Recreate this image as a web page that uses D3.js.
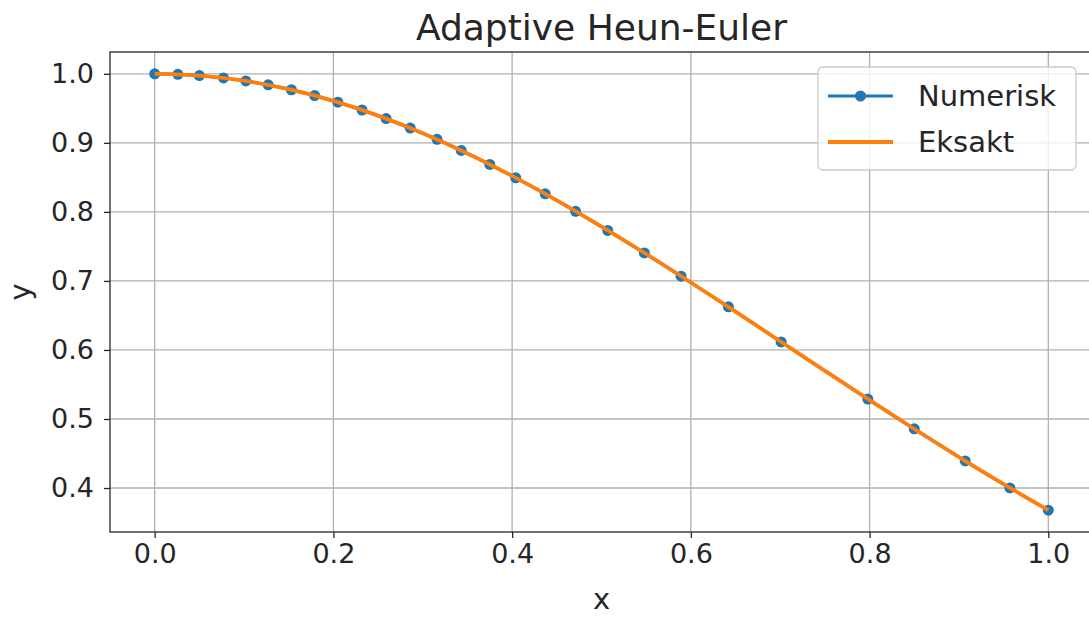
<!DOCTYPE html>
<html>
<head>
<meta charset="utf-8">
<script src="https://cdn.jsdelivr.net/npm/d3@7"></script>
<style>
  body { margin: 0; background: #fff; }
  svg text { font-family: "DejaVu Sans", sans-serif; fill: #262626; }
</style>
</head>
<body>
<div id="chart"></div>
<script>
// numeric solution (adaptive steps)
const numX = [0.0, 0.026, 0.050, 0.077, 0.102, 0.127, 0.153, 0.179, 0.205, 0.232,
  0.259, 0.286, 0.316, 0.343, 0.375, 0.404, 0.437, 0.471, 0.507, 0.548,
  0.589, 0.642, 0.701, 0.798, 0.850, 0.907, 0.957, 1.0];
const numY = [1.0, 0.9993, 0.9975, 0.9941, 0.9897, 0.9840, 0.9769, 0.9685, 0.9589, 0.9476,
  0.9352, 0.9214, 0.9051, 0.8890, 0.8688, 0.8493, 0.8262, 0.8008, 0.7732, 0.7406,
  0.7068, 0.6625, 0.6117, 0.5288, 0.4857, 0.4392, 0.4002, 0.3679];

// exact solution samples
const exactX = [0.0, 0.05, 0.1, 0.15, 0.2, 0.25, 0.3, 0.35, 0.4, 0.45, 0.5,
  0.55, 0.6, 0.65, 0.7, 0.75, 0.8, 0.85, 0.9, 0.95, 1.0];
const exactY = [1.0, 0.9975, 0.9900, 0.9778, 0.9608, 0.9394, 0.9139, 0.8847, 0.8521, 0.8167, 0.7788,
  0.7390, 0.6977, 0.6554, 0.6126, 0.5698, 0.5273, 0.4855, 0.4449, 0.4056, 0.3679];

const xTicks = [0.0, 0.2, 0.4, 0.6, 0.8, 1.0];
const yTicks = [0.4, 0.5, 0.6, 0.7, 0.8, 0.9, 1.0];
const seriesNames = ["Numerisk", "Eksakt"];
const colors = ["#1f77b4", "#ff7f0e"];

const width = 1089, height = 617;
const margin = { left: 110, right: -4, top: 52, bottom: 85 };

const svg = d3.select("#chart").append("svg")
  .attr("width", width)
  .attr("height", height);

const x = d3.scaleLinear()
  .domain([-0.05, 1.05])
  .range([margin.left, width - margin.right]);

const y = d3.scaleLinear()
  .domain([0.3363, 1.0316])
  .range([height - margin.bottom, margin.top]);

// grid
const grid = svg.append("g").attr("stroke", "#b0b0b0").attr("stroke-width", 1.3);
grid.selectAll(".gx").data(xTicks).join("line")
  .attr("x1", d => x(d)).attr("x2", d => x(d))
  .attr("y1", y.range()[0]).attr("y2", y.range()[1]);
grid.selectAll(".gy").data(yTicks).join("line")
  .attr("y1", d => y(d)).attr("y2", d => y(d))
  .attr("x1", x.range()[0]).attr("x2", x.range()[1]);

// axes
const xAxis = svg.append("g")
  .attr("transform", `translate(0,${y.range()[0]})`)
  .call(d3.axisBottom(x).tickValues(xTicks).tickFormat(d3.format(".1f")).tickSizeOuter(0).tickSize(6).tickPadding(6));
const yAxis = svg.append("g")
  .attr("transform", `translate(${x.range()[0]},0)`)
  .call(d3.axisLeft(y).tickValues(yTicks).tickFormat(d3.format(".1f")).tickSizeOuter(0).tickSize(6).tickPadding(10));

[xAxis, yAxis].forEach(a => {
  a.select(".domain").remove();
  a.selectAll("line").attr("stroke", "#262626").attr("stroke-width", 1.3);
  a.selectAll("text").attr("font-size", 27).attr("fill", "#262626")
    .style("font-family", "'DejaVu Sans', sans-serif");
});

// spines
svg.append("rect")
  .attr("x", x.range()[0]).attr("y", y.range()[1])
  .attr("width", x.range()[1] - x.range()[0])
  .attr("height", y.range()[0] - y.range()[1])
  .attr("fill", "none").attr("stroke", "#262626").attr("stroke-width", 1.3);

// numeric line + markers
const numData = numX.map((d, i) => [d, numY[i]]);
const exactData = exactX.map((d, i) => [d, exactY[i]]);

svg.append("path")
  .datum(numData)
  .attr("fill", "none")
  .attr("stroke", colors[0])
  .attr("stroke-width", 3)
  .attr("d", d3.line().x(d => x(d[0])).y(d => y(d[1])));

svg.append("g").selectAll("circle").data(numData).join("circle")
  .attr("cx", d => x(d[0])).attr("cy", d => y(d[1]))
  .attr("r", 5.5).attr("fill", colors[0]);

svg.append("path")
  .datum(exactData)
  .attr("fill", "none")
  .attr("stroke", colors[1])
  .attr("stroke-width", 3.8)
  .attr("d", d3.line().curve(d3.curveMonotoneX).x(d => x(d[0])).y(d => y(d[1])));

// title and labels
svg.append("text")
  .attr("x", (x.range()[0] + x.range()[1]) / 2).attr("y", 40)
  .attr("text-anchor", "middle").attr("font-size", 36)
  .text("Adaptive Heun-Euler");

svg.append("text")
  .attr("x", (x.range()[0] + x.range()[1]) / 2).attr("y", 609)
  .attr("text-anchor", "middle").attr("font-size", 29)
  .text("x");

svg.append("text")
  .attr("transform", `translate(30,${(y.range()[0] + y.range()[1]) / 2}) rotate(-90)`)
  .attr("text-anchor", "middle").attr("font-size", 29)
  .text("y");

// legend
const lg = svg.append("g").attr("transform", "translate(818,67)");
lg.append("rect")
  .attr("width", 258).attr("height", 103).attr("rx", 5)
  .attr("fill", "#fff").attr("fill-opacity", 0.8)
  .attr("stroke", "#cccccc").attr("stroke-width", 1.3);
seriesNames.forEach((name, i) => {
  const yy = 29 + i * 46;
  lg.append("line")
    .attr("x1", 10).attr("x2", 75).attr("y1", yy).attr("y2", yy)
    .attr("stroke", colors[i]).attr("stroke-width", i === 0 ? 3 : 3.8);
  if (i === 0) {
    lg.append("circle").attr("cx", 42.5).attr("cy", yy).attr("r", 5.5).attr("fill", colors[0]);
  }
  lg.append("text")
    .attr("x", 100).attr("y", yy).attr("dy", "0.36em")
    .attr("font-size", 29).text(name);
});
</script>
</body>
</html>
